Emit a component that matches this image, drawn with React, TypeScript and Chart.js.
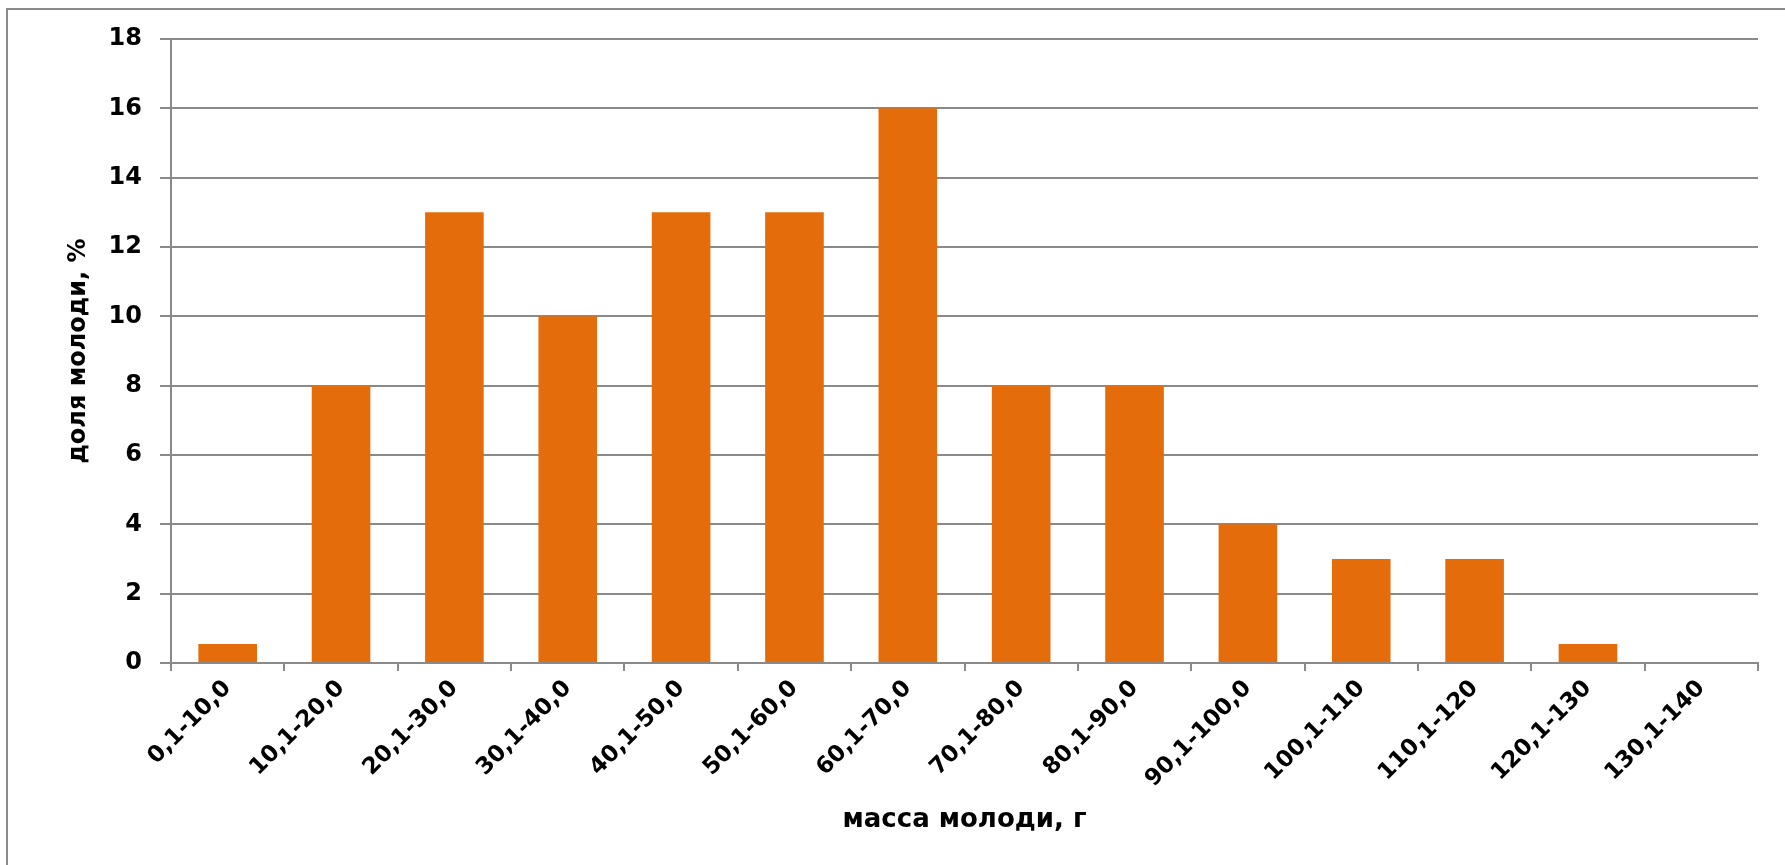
import React, { useEffect, useRef } from "react";
import { Chart, registerables } from "chart.js";

Chart.register(...registerables);

const categories = [
  "0,1-10,0", "10,1-20,0", "20,1-30,0", "30,1-40,0", "40,1-50,0", "50,1-60,0", "60,1-70,0",
  "70,1-80,0", "80,1-90,0", "90,1-100,0", "100,1-110", "110,1-120", "120,1-130", "130,1-140",
];
const shares = [0.55, 8, 13, 10, 13, 13, 16, 8, 8, 4, 3, 3, 0.55, 0];
const yTicks = [0, 2, 4, 6, 8, 10, 12, 14, 16, 18];
const xTitle = "масса молоди, г";
const yTitle = "доля молоди, %";

const FONT = "'DejaVu Sans', sans-serif";
const GRID = "#8a8a8a";

const frame = {
  id: "frame",
  afterDraw(chart: any) {
    const ctx = chart.ctx;
    ctx.save();
    ctx.strokeStyle = GRID;
    ctx.lineWidth = 2;
    ctx.strokeRect(7, 9, 3000, 3000);
    ctx.restore();
  },
};

export default function App() {
  const ref = useRef<HTMLCanvasElement>(null);
  useEffect(() => {
    const chart = new Chart(ref.current!, {
      type: "bar",
      data: {
        labels: categories,
        datasets: [
          {
            data: shares,
            backgroundColor: "#E46C0A",
            borderWidth: 0,
            barPercentage: 0.517,
            categoryPercentage: 1,
          },
        ],
      },
      options: {
        responsive: false,
        animation: false,
        devicePixelRatio: 1,
        layout: { padding: { left: 60, top: 39, right: 27, bottom: 25 } },
        plugins: { legend: { display: false }, tooltip: { enabled: false } },
        scales: {
          x: {
            grid: {
              display: true,
              drawOnChartArea: false,
              drawTicks: true,
              tickLength: 8,
              color: GRID,
              lineWidth: 2,
              offset: true,
            },
            border: { display: true, color: GRID, width: 2 },
            ticks: {
              maxRotation: 45,
              minRotation: 45,
              autoSkip: false,
              color: "#000",
              padding: 4,
              font: { family: FONT, size: 23, weight: "bold" },
            },
            title: {
              display: true,
              text: xTitle,
              color: "#000",
              font: { family: FONT, size: 26, weight: "bold" },
              padding: { top: 4, bottom: 4 },
            },
            afterFit(scale: any) {
              scale.height = 177;
            },
          },
          y: {
            min: 0,
            max: 18,
            afterBuildTicks(scale: any) {
              scale.ticks = yTicks.map((v) => ({ value: v }));
            },
            grid: {
              color: GRID,
              lineWidth: 2,
              tickLength: 11,
            },
            border: { display: true, color: GRID, width: 2 },
            ticks: {
              color: "#000",
              padding: 18,
              font: { family: FONT, size: 24, weight: "bold" },
            },
            title: {
              display: true,
              text: yTitle,
              color: "#000",
              font: { family: FONT, size: 24, weight: "bold" },
              padding: { top: 4, bottom: 4 },
            },
            afterFit(scale: any) {
              scale.width = 111;
            },
          },
        },
      },
      plugins: [frame],
    });
    return () => chart.destroy();
  }, []);
  return (
    <div style={{ position: "fixed", left: 0, top: 0, width: 1785, height: 865, background: "#fff" }}>
      <canvas ref={ref} width={1785} height={865} style={{ width: 1785, height: 865 }} />
    </div>
  );
}
